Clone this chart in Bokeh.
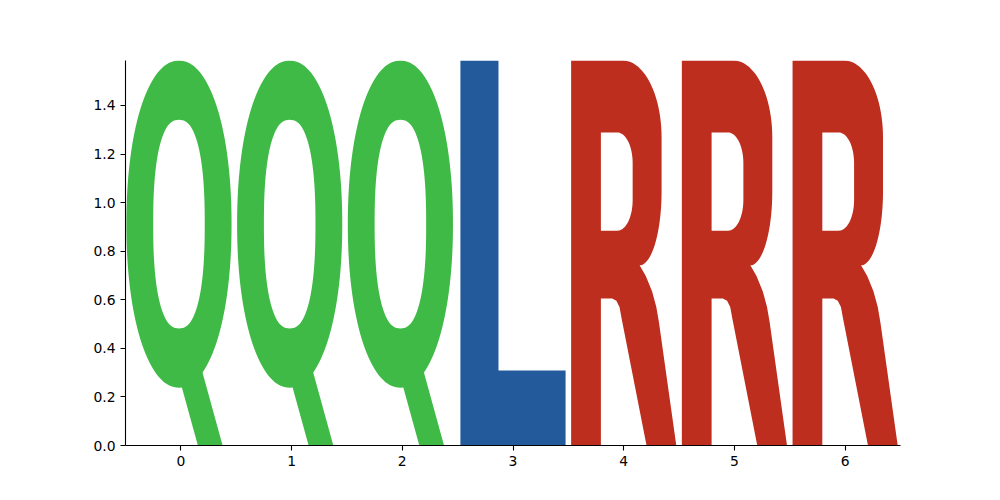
import numpy as np
from bokeh.plotting import figure
from bokeh.models import ColumnDataSource, Range1d, FixedTicker, PrintfTickFormatter
from bokeh.embed import file_html
from bokeh.resources import INLINE

# logo data: one letter per position, stacked from zero
positions = [0, 1, 2, 3, 4, 5, 6]
letters = ["Q", "Q", "Q", "L", "R", "R", "R"]
heights = [1.585, 1.585, 1.585, 1.585, 1.585, 1.585, 1.585]
letter_colors = {"Q": "#40ba47", "L": "#225a9c", "R": "#be2e1f"}
x_ticks = [0, 1, 2, 3, 4, 5, 6]
y_ticks = [0.0, 0.2, 0.4, 0.6, 0.8, 1.0, 1.2, 1.4]

LETTER_WIDTH = 0.95


def arc(cx, cy, rx, ry, a0, a1, n=24):
    t = np.radians(np.linspace(a0, a1, n))
    return list(cx + rx * np.cos(t)), list(cy + ry * np.sin(t))


def blob(cx, cy, rx, ry, p=2.0, n=140):
    t = np.linspace(0, 2 * np.pi, n, endpoint=False)
    c, s = np.cos(t), np.sin(t)
    x = cx + rx * np.sign(c) * np.abs(c) ** (2.0 / p)
    y = cy + ry * np.sign(s) * np.abs(s) ** (2.0 / p)
    return list(x), list(y)


def path(*parts):
    xs, ys = [], []
    for px, py in parts:
        xs += list(px)
        ys += list(py)
    return xs, ys


def seg(*pts):
    return [p[0] for p in pts], [p[1] for p in pts]


# letter outlines in a unit box (0..1 wide, 0..1 tall), stretched later
def letter_shapes():
    shapes = {}
    qx = -0.018  # the Q glyph sits a touch left of its slot
    q_body = [blob(0.5 + qx, 0.575, 0.5, 0.425, 2.1),
              blob(0.5 + qx, 0.575, 0.245, 0.271, 2.4)]
    q_tail = [seg((0.68 + qx, 0.0), (0.915 + qx, 0.0),
                  (0.693 + qx, 0.22), (0.478 + qx, 0.2))]
    shapes["Q"] = [q_body, q_tail]

    l_outline = [seg((0, 1), (0.362, 1), (0.362, 0.195), (1, 0.195), (1, 0), (0, 0))]
    shapes["L"] = [l_outline]

    r_outer = path(
        seg((0, 1), (0.49, 1)),
        arc(0.49, 0.80, 0.37, 0.20, 90, 0),
        seg((0.86, 0.66)),
        arc(0.651, 0.66, 0.209, 0.192, 0, -90),
        seg((0.71, 0.44), (0.77, 0.40), (0.81, 0.36), (0.835, 0.32),
            (1.0, 0.0), (0.717, 0.0), (0.48, 0.33), (0.46, 0.36),
            (0.43, 0.376), (0.39, 0.382), (0.283, 0.382), (0.283, 0.0), (0.0, 0.0)),
    )
    r_hole = path(
        seg((0.283, 0.813), (0.44, 0.813)),
        arc(0.44, 0.733, 0.145, 0.08, 90, 0),
        arc(0.44, 0.638, 0.145, 0.08, 0, -90),
        seg((0.283, 0.558)),
    )
    shapes["R"] = [[r_outer, r_hole]]
    return shapes


shapes = letter_shapes()

xs, ys, fills = [], [], []
for pos, letter, h in zip(positions, letters, heights):
    left = pos - LETTER_WIDTH / 2
    for polygon in shapes[letter]:
        rings_x, rings_y = [], []
        for rx, ry in polygon:
            rings_x.append([left + u * LETTER_WIDTH for u in rx])
            rings_y.append([v * h for v in ry])
        xs.append([rings_x])
        ys.append([rings_y])
        fills.append(letter_colors[letter])

source = ColumnDataSource(dict(xs=xs, ys=ys, color=fills))

p = figure(frame_width=775, frame_height=385,
           x_range=Range1d(-0.5, 6.5), y_range=Range1d(0, max(heights)),
           toolbar_location=None, output_backend="svg",
           min_border_left=125, min_border_top=60,
           min_border_right=70, min_border_bottom=36)

p.multi_polygons(xs="xs", ys="ys", fill_color="color", line_color=None, source=source)

p.xgrid.visible = False
p.ygrid.visible = False
p.outline_line_color = None
p.xaxis.ticker = FixedTicker(ticks=x_ticks)
p.yaxis.ticker = FixedTicker(ticks=y_ticks)
p.yaxis.formatter = PrintfTickFormatter(format="%.1f")
for ax in p.axis:
    ax.axis_line_color = "black"
    ax.axis_line_width = 1.1
    ax.major_tick_line_color = "black"
    ax.major_tick_line_width = 1.1
    ax.major_tick_out = 5
    ax.major_tick_in = 0
    ax.minor_tick_out = 0
    ax.minor_tick_in = 0
    ax.major_label_text_font = "DejaVu Sans"
    ax.major_label_text_font_size = "13.9px"
    ax.major_label_text_color = "black"
    ax.major_label_standoff = 5

open("out.html", "w").write(file_html(p, INLINE))
